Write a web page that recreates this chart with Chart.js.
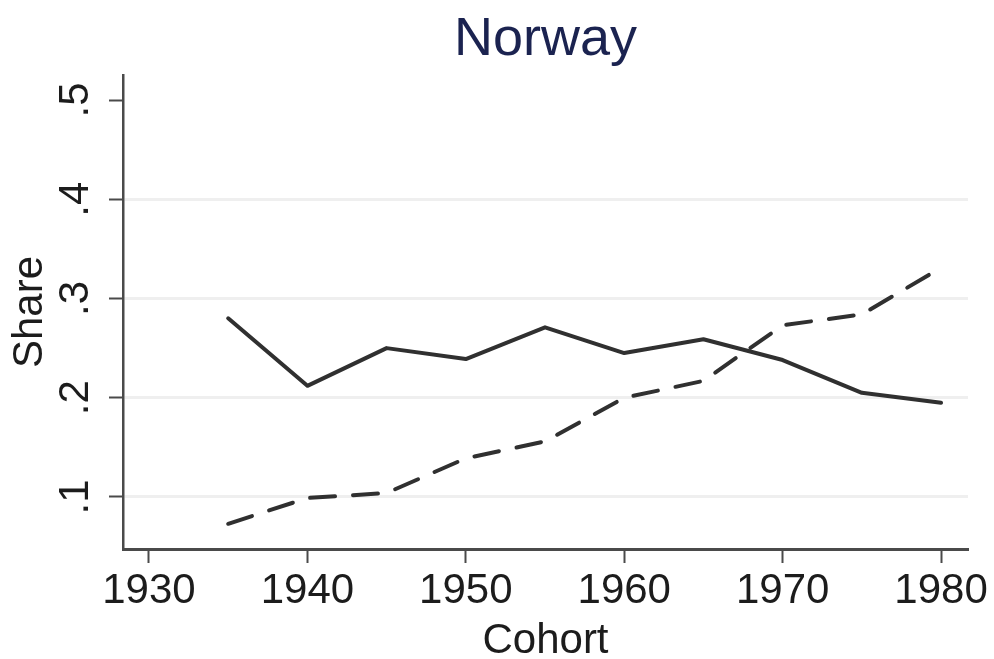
<!DOCTYPE html>
<html>
<head>
<meta charset="utf-8">
<title>Norway</title>
<script src="https://cdn.jsdelivr.net/npm/chart.js@4.4.1/dist/chart.umd.min.js"></script>
<style>
  html, body { margin: 0; padding: 0; background: #ffffff; }
  #wrap { width: 994px; height: 659px; position: relative; }
</style>
</head>
<body>
<div id="wrap"><canvas id="chart" width="994" height="659"></canvas></div>
<script>
// Birth cohorts and the two shares plotted against them
const cohorts = [1935, 1940, 1945, 1950, 1955, 1960, 1965, 1970, 1975, 1980];
const solidSeries = [0.280, 0.212, 0.250, 0.239, 0.271, 0.245, 0.259, 0.238, 0.205, 0.195];
const dashedSeries = [0.073, 0.099, 0.104, 0.139, 0.156, 0.200, 0.217, 0.273, 0.284, 0.331];

// Axis ticks
const xTicks = [1930, 1940, 1950, 1960, 1970, 1980];
const yTicks = [0.1, 0.2, 0.3, 0.4, 0.5];
const yTickLabels = ['.1', '.2', '.3', '.4', '.5'];

const titleText = 'Norway';
const xTitle = 'Cohort';
const yTitle = 'Share';

const FONT = '"Liberation Sans", Arial, Helvetica, sans-serif';
const INK = '#1c1c1c';
const AXIS = '#4a4a4a';

function toPoints(values) {
  return cohorts.map((c, i) => ({ x: c, y: values[i] }));
}

// Draws the title, the rotated y tick labels and the axis titles
const textPlugin = {
  id: 'stataText',
  afterDraw(chart) {
    const ctx = chart.ctx;
    const area = chart.chartArea;
    const yScale = chart.scales.y;
    const cx = (area.left + area.right) / 2;

    ctx.save();
    ctx.fillStyle = '#1b2350';
    ctx.font = '54px ' + FONT;
    ctx.textAlign = 'center';
    ctx.textBaseline = 'alphabetic';
    ctx.fillText(titleText, cx, 55);

    ctx.fillStyle = INK;
    ctx.font = '42px ' + FONT;
    yTicks.forEach((v, i) => {
      const py = yScale.getPixelForValue(v);
      ctx.save();
      ctx.translate(88, py);
      ctx.rotate(-Math.PI / 2);
      ctx.textAlign = 'center';
      ctx.textBaseline = 'alphabetic';
      ctx.fillText(yTickLabels[i], 0, 0);
      ctx.restore();
    });

    ctx.save();
    ctx.translate(42, (area.top + area.bottom) / 2);
    ctx.rotate(-Math.PI / 2);
    ctx.textAlign = 'center';
    ctx.textBaseline = 'alphabetic';
    ctx.fillText(yTitle, 0, 0);
    ctx.restore();

    ctx.textAlign = 'center';
    ctx.textBaseline = 'alphabetic';
    ctx.fillText(xTitle, cx, 653);
    ctx.restore();
  }
};

new Chart(document.getElementById('chart'), {
  type: 'line',
  data: {
    datasets: [
      {
        data: toPoints(solidSeries),
        borderColor: '#303030',
        borderWidth: 4,
        pointRadius: 0,
        tension: 0,
        borderCapStyle: 'round',
        borderJoinStyle: 'round'
      },
      {
        data: toPoints(dashedSeries),
        borderColor: '#303030',
        borderWidth: 4,
        borderDash: [25, 18],
        borderCapStyle: 'round',
        borderJoinStyle: 'round',
        pointRadius: 0,
        tension: 0
      }
    ]
  },
  options: {
    responsive: false,
    animation: false,
    devicePixelRatio: 1,
    layout: { padding: { left: 0, right: 26, top: 75, bottom: 0 } },
    plugins: {
      legend: { display: false },
      title: { display: false },
      tooltip: { enabled: false }
    },
    scales: {
      x: {
        type: 'linear',
        min: 1928.36,
        max: 1981.7,
        afterBuildTicks(scale) {
          scale.ticks = xTicks.map(v => ({ value: v }));
        },
        afterFit(scale) { scale.height = 110; },
        ticks: {
          autoSkip: false,
          maxRotation: 0,
          padding: 3,
          color: INK,
          font: { family: FONT, size: 42 },
          callback: v => String(v)
        },
        grid: {
          drawOnChartArea: false,
          drawTicks: true,
          tickLength: 14,
          tickColor: AXIS,
          tickWidth: 2
        },
        border: { display: true, color: AXIS, width: 3 }
      },
      y: {
        type: 'linear',
        min: 0.0476,
        max: 0.5252,
        afterBuildTicks(scale) {
          scale.ticks = yTicks.map(v => ({ value: v }));
        },
        afterFit(scale) { scale.width = 123; },
        ticks: { display: false },
        grid: {
          drawOnChartArea: true,
          drawTicks: true,
          tickLength: 14,
          lineWidth: 3,
          color: ctx => (ctx.tick && ctx.tick.value >= 0.5 ? 'rgba(0,0,0,0)' : '#efefef'),
          tickColor: AXIS,
          tickWidth: 2
        },
        border: { display: true, color: AXIS, width: 2.5 }
      }
    }
  },
  plugins: [textPlugin]
});
</script>
</body>
</html>
